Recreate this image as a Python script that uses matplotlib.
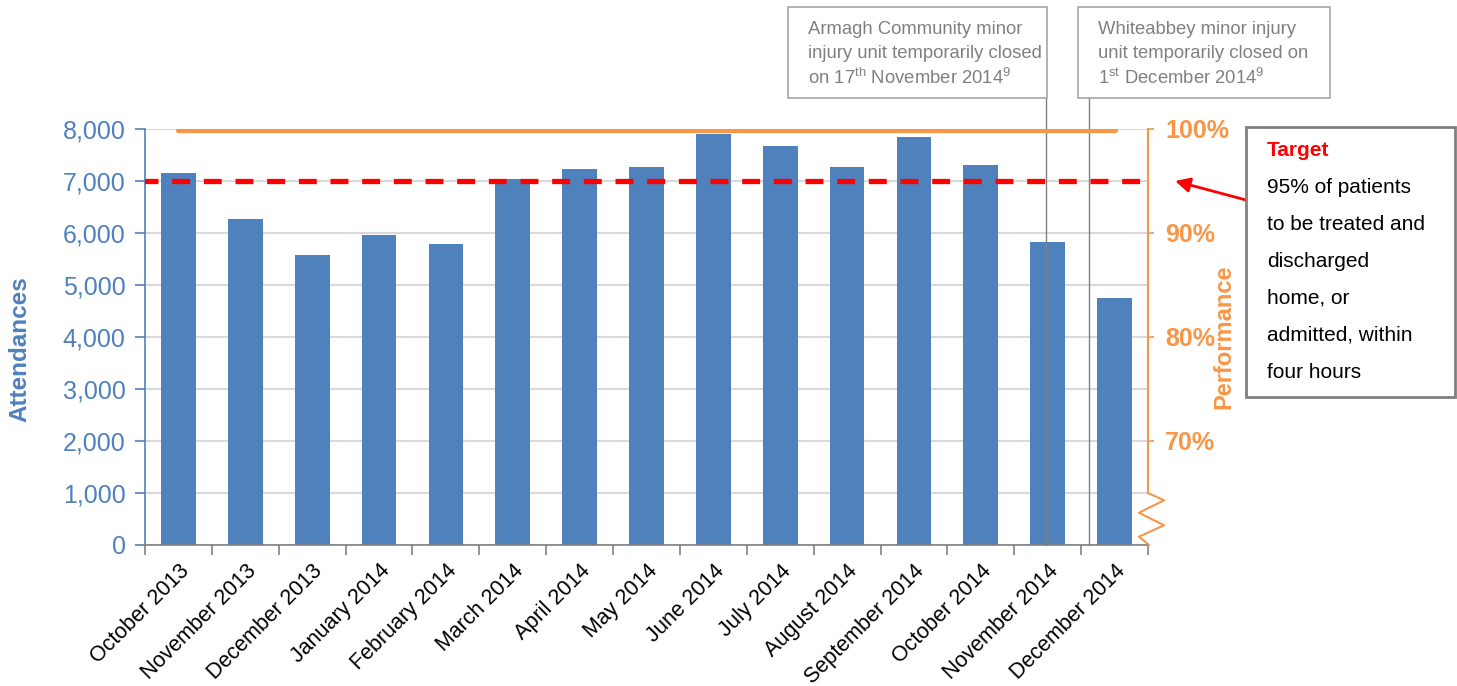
import matplotlib.pyplot as plt
from matplotlib.patches import Rectangle
import numpy as np

plt.rcParams['font.family'] = ['Liberation Sans', 'DejaVu Sans']
plt.rcParams['mathtext.fontset'] = 'custom'
plt.rcParams['mathtext.rm'] = 'Liberation Sans'

# Monthly attendances and four-hour performance
months = ['October 2013', 'November 2013', 'December 2013', 'January 2014',
          'February 2014', 'March 2014', 'April 2014', 'May 2014', 'June 2014',
          'July 2014', 'August 2014', 'September 2014', 'October 2014',
          'November 2014', 'December 2014']
attendances = [7160, 6270, 5580, 5960, 5790, 7040, 7230, 7270, 7900,
               7670, 7270, 7850, 7310, 5830, 4750]
performance = [99.9, 99.9, 99.9, 99.9, 99.9, 99.9, 99.9, 99.9, 99.9,
               99.9, 99.9, 99.9, 99.9, 99.9, 99.9]
target = 95
left_ticks = [0, 1000, 2000, 3000, 4000, 5000, 6000, 7000, 8000]
right_ticks = [70, 80, 90, 100]

blue = '#4F81BD'
orange = '#F79646'
grey = '#808080'

fig = plt.figure(figsize=(14.57, 6.86), dpi=100)
ax = fig.add_axes([145 / 1457, 1 - 545 / 686, 1003 / 1457, 416 / 686])
x = np.arange(len(months))

ax.bar(x, attendances, width=0.52, color=blue, zorder=2)
ax.set_xlim(-0.5, len(months) - 0.5)
ax.set_ylim(0, 8000)
ax.set_yticks(left_ticks)
ax.set_yticklabels([f'{v:,}' for v in left_ticks], color=blue, fontsize=18)
ax.yaxis.grid(True, color='#D9D9D9', linewidth=1.5, zorder=0)
ax.set_axisbelow(True)
ax.tick_params(axis='y', colors=blue, length=7, width=1.2, labelcolor=blue, pad=7)
ax.set_ylabel('Attendances', color=blue, fontsize=17.5, fontweight='bold')
ax.yaxis.set_label_coords(-0.1136, 0.47)

# category ticks sit between bars
ax.set_xticks(x)
ax.set_xticklabels(months, rotation=45, ha='right', rotation_mode='anchor', fontsize=15.5)
ax.set_xticks(np.arange(-0.5, len(months)), minor=True)
ax.tick_params(axis='x', which='major', length=0, pad=11)
ax.tick_params(axis='x', which='minor', length=7, color=grey, width=1.2)

for s in ['top', 'right']:
    ax.spines[s].set_visible(False)
ax.spines['left'].set_color(blue)
ax.spines['left'].set_linewidth(1.2)
ax.spines['bottom'].set_color(grey)
ax.spines['bottom'].set_linewidth(1.2)

# performance axis on the right
ax2 = ax.twinx()
ax2.set_ylim(60, 100)
ax2.set_yticks(right_ticks)
ax2.set_yticklabels([f'{v}%' for v in right_ticks], color=orange, fontsize=18,
                    fontweight='bold')
ax2.tick_params(axis='y', colors=orange, length=4.5, width=1.2, pad=8)
for s in ['top', 'left', 'bottom']:
    ax2.spines[s].set_visible(False)
ax2.spines['right'].set_color(orange)
ax2.spines['right'].set_linewidth(1.5)
ax2.spines['right'].set_bounds(65, 100)
ax2.set_ylabel('Performance', color=orange, fontsize=17, fontweight='bold', rotation=90)
ax2.yaxis.set_label_coords(1.0638, 0.5)

ax2.plot(x, performance, color=orange, linewidth=3.8, solid_capstyle='round', zorder=3)
ax2.axhline(target, color='#FF0000', linewidth=3.8, dashes=(3.4, 2.6), zorder=4,
            xmin=-0.005, xmax=1.0)

# axis break on the performance scale
zx = [1.0, 1.016, 0.991, 1.016, 0.991, 1.001]
zy = [65, 64.3, 63.1, 61.9, 60.8, 60]
ax2.plot(zx, zy, color=orange, linewidth=1.5, clip_on=False,
         transform=ax2.get_yaxis_transform())

# closure markers
ax.axvline(12.97, ymin=0, ymax=(545 - 98) / 416, color=grey, linewidth=1, clip_on=False, zorder=5)
ax.axvline(13.62, ymin=0, ymax=(545 - 98) / 416, color=grey, linewidth=1, clip_on=False, zorder=5)


def px_box(x0, y0, x1, y1, lw=1.2, ec='#A6A6A6'):
    fig.add_artist(Rectangle((x0 / 1457, 1 - y1 / 686), (x1 - x0) / 1457, (y1 - y0) / 686,
                             transform=fig.transFigure, facecolor='white',
                             edgecolor=ec, linewidth=lw, zorder=6))


def px_text(px, py, s, **kw):
    fig.text(px / 1457, 1 - py / 686, s, va='center', ha='left', zorder=7, **kw)


px_box(788, 7, 1047, 98)
px_box(1078, 7, 1330, 98)
note1 = ['Armagh Community minor', 'injury unit temporarily closed',
         r'on 17$^{\mathrm{th}}$ November 2014$^{\mathrm{9}}$']
note2 = ['Whiteabbey minor injury', 'unit temporarily closed on',
         r'1$^{\mathrm{st}}$ December 2014$^{\mathrm{9}}$']
for i, line in enumerate(note1):
    px_text(808, 29 + i * 24.5, line, color=grey, fontsize=13.3)
for i, line in enumerate(note2):
    px_text(1098, 29 + i * 24.5, line, color=grey, fontsize=13.3)

# target call-out
px_box(1246, 127, 1455, 397, lw=2, ec=grey)
px_text(1267, 151, 'Target', color='#FF0000', fontsize=15, fontweight='bold')
target_lines = ['95% of patients', 'to be treated and', 'discharged',
                'home, or', 'admitted, within', 'four hours']
for i, line in enumerate(target_lines):
    px_text(1267, 188 + i * 36.8, line, color='black', fontsize=15)

ax2.annotate('', xy=(1.027, target), xycoords=ax2.get_yaxis_transform(),
             xytext=(1246 / 1457, 1 - 200 / 686), textcoords='figure fraction',
             arrowprops=dict(arrowstyle='-|>', color='#FF0000', lw=2,
                             mutation_scale=22, shrinkA=0, shrinkB=0))

fig.savefig('out.png', dpi=100)
